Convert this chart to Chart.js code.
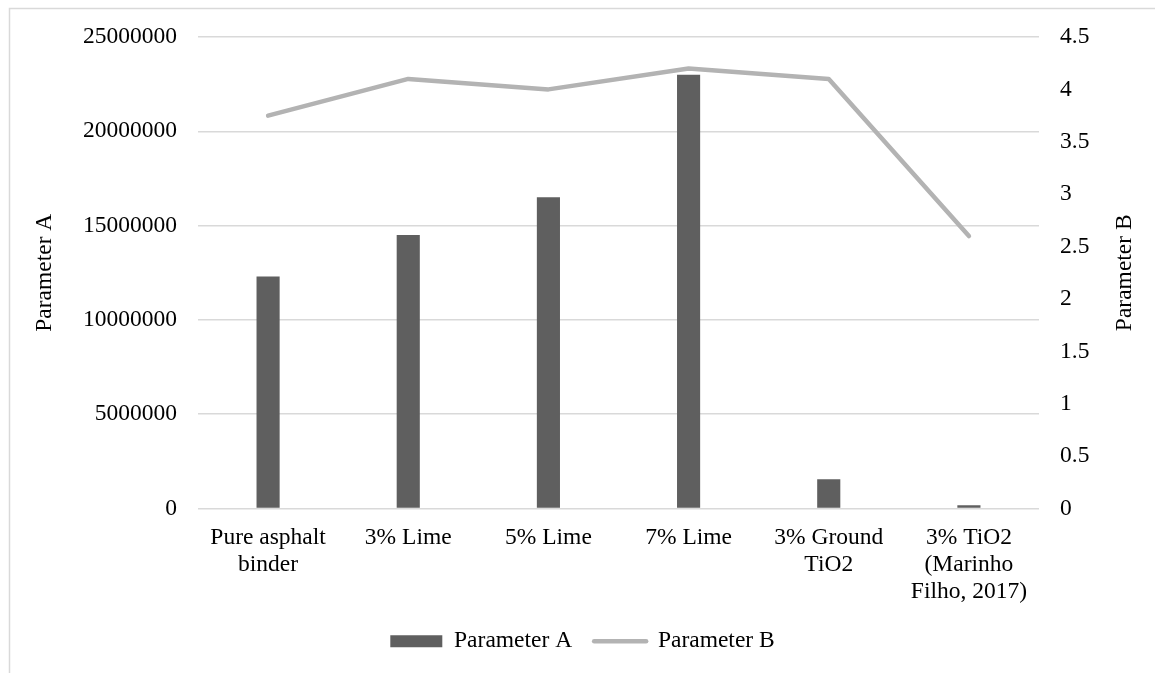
<!DOCTYPE html>
<html>
<head>
<meta charset="utf-8">
<script src="https://cdn.jsdelivr.net/npm/chart.js@4.4.1/dist/chart.umd.min.js"></script>
<style>
  html, body { margin: 0; padding: 0; background: #fff; }
  #wrap { position: relative; width: 1155px; height: 673px; }
</style>
</head>
<body>
<div id="wrap"><canvas id="chart"></canvas></div>
<script>
// ── DATA ────────────────────────────────────────────────────
const categories = [
  ['Pure asphalt', 'binder'],
  '3% Lime',
  '5% Lime',
  '7% Lime',
  ['3% Ground', 'TiO2'],
  ['3% TiO2', '(Marinho', 'Filho, 2017)']
];
const paramA = [12300000, 14500000, 16500000, 23000000, 1550000, 170000];
const paramB = [3.75, 4.1, 4.0, 4.2, 4.1, 2.6];
const leftTicks = { min: 0, max: 25000000, step: 5000000 };
const rightTicks = { min: 0, max: 4.5, step: 0.5 };

// ── STYLE ───────────────────────────────────────────────────
const FONT = 'Liberation Serif, Times New Roman, serif';
const FS = 23.5;
const BAR_COLOR = '#5f5f5f';
const LINE_COLOR = '#b3b3b3';
const GRID = '#d9d9d9';

// frame + rotated axis titles
const decor = {
  id: 'decor',
  beforeDraw(chart) {
    const c = chart.ctx;
    c.save();
    c.strokeStyle = GRID;
    c.lineWidth = 1.5;
    c.beginPath();
    c.moveTo(9.5, 673);
    c.lineTo(9.5, 8.5);
    c.lineTo(1155, 8.5);
    c.stroke();
    c.restore();
  },
  afterDraw(chart) {
    const c = chart.ctx;
    const a = chart.chartArea;
    const midY = (a.top + a.bottom) / 2;
    c.save();
    c.fillStyle = '#000';
    c.font = FS + 'px ' + FONT;
    c.textAlign = 'center';
    c.textBaseline = 'middle';
    [['Parameter A', 45], ['Parameter B', 1125]].forEach(([t, x]) => {
      c.save();
      c.translate(x, midY);
      c.rotate(-Math.PI / 2);
      c.fillText(t, 0, 0);
      c.restore();
    });
    c.restore();
  }
};

new Chart(document.getElementById('chart'), {
  data: {
    labels: categories,
    datasets: [
      {
        type: 'bar',
        label: 'Parameter A',
        data: paramA,
        yAxisID: 'y',
        backgroundColor: BAR_COLOR,
        barPercentage: 0.165,
        categoryPercentage: 1,
        order: 1
      },
      {
        type: 'line',
        label: 'Parameter B',
        data: paramB,
        yAxisID: 'y1',
        borderColor: LINE_COLOR,
        borderWidth: 4.5,
        pointRadius: 0,
        tension: 0,
        borderCapStyle: 'round',
        borderJoinStyle: 'round',
        order: 0
      }
    ]
  },
  plugins: [decor],
  options: {
    responsive: true,
    maintainAspectRatio: false,
    animation: false,
    layout: { padding: { left: 10, right: 0, top: 37, bottom: 10 } },
    plugins: {
      tooltip: { enabled: false },
      legend: {
        position: 'bottom',
        labels: {
          color: '#000',
          font: { family: FONT, size: FS },
          usePointStyle: true,
          pointStyleWidth: 52,
          boxHeight: 12,
          padding: 22,
          generateLabels: () => [
            { text: 'Parameter A', pointStyle: 'rect', fillStyle: BAR_COLOR, strokeStyle: BAR_COLOR, lineWidth: 0, datasetIndex: 0 },
            { text: 'Parameter B', pointStyle: 'line', fillStyle: LINE_COLOR, strokeStyle: LINE_COLOR, lineWidth: 4.5, lineCap: 'round', datasetIndex: 1 }
          ]
        }
      }
    },
    scales: {
      x: {
        grid: { display: false },
        border: { display: false },
        ticks: {
          color: '#000',
          font: { family: FONT, size: FS, lineHeight: 1.14 },
          padding: 8,
          maxRotation: 0,
          autoSkip: false
        },
        afterFit: s => { s.height = 99; }
      },
      y: {
        position: 'left',
        min: leftTicks.min,
        max: leftTicks.max,
        grid: { color: GRID, lineWidth: 1.5, drawTicks: false },
        border: { display: false },
        ticks: {
          stepSize: leftTicks.step,
          color: '#000',
          font: { family: FONT, size: FS },
          padding: 21,
          callback: v => String(v)
        },
        afterFit: s => { s.width = 188; }
      },
      y1: {
        position: 'right',
        min: rightTicks.min,
        max: rightTicks.max,
        grid: { display: false, drawTicks: false },
        border: { display: false },
        ticks: {
          stepSize: rightTicks.step,
          color: '#000',
          font: { family: FONT, size: FS },
          padding: 21,
          callback: v => String(v)
        },
        afterFit: s => { s.width = 116; }
      }
    }
  }
});
</script>
</body>
</html>
